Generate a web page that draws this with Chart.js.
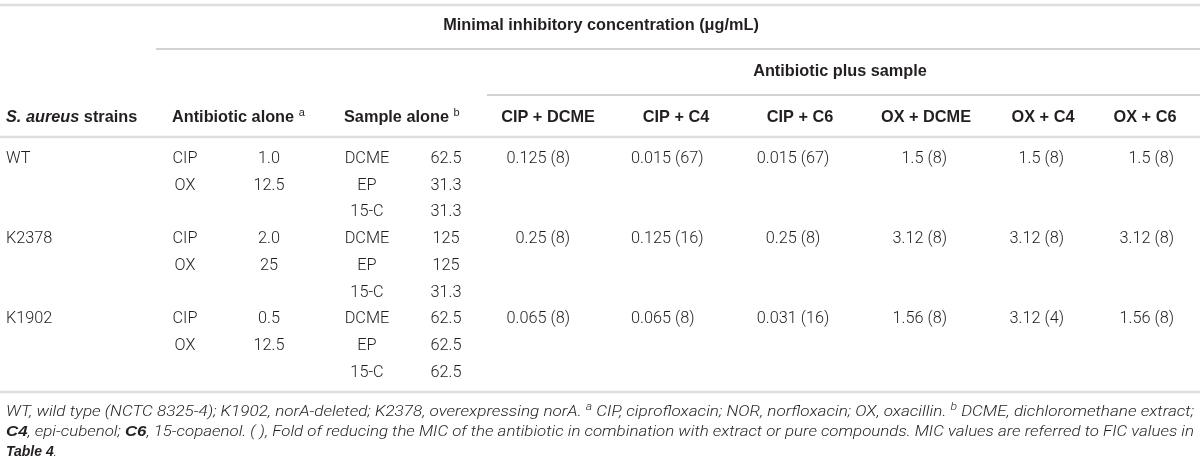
<!DOCTYPE html>
<html><head><meta charset="utf-8">
<script src="https://cdn.jsdelivr.net/npm/chart.js@4.4.1/dist/chart.umd.min.js"></script>
<style>html,body{margin:0;padding:0;background:#fff;overflow:hidden}#wrap{width:1200px;height:465px;position:relative}</style>
</head><body><div id="wrap"><canvas id="c"></canvas></div>
<script>
// ---------------- DATA ----------------
const titleText = 'Minimal inhibitory concentration (\u03bcg/mL)';
const groupText = 'Antibiotic plus sample';
const strainHeader = [['S. aureus', 'bi'], [' strains', 'b']];
const antibioticHeader = [['Antibiotic alone ', 'b'], ['a', 'sup']];
const sampleHeader = [['Sample alone ', 'b'], ['b', 'sup']];
const strains = ['WT', 'K2378', 'K1902'];
const antibiotics = ['CIP', 'OX'];
const antibioticAlone = [['1.0', '12.5'], ['2.0', '25'], ['0.5', '12.5']];
const samples = ['DCME', 'EP', '15-C'];
const sampleAlone = [['62.5', '31.3', '31.3'], ['125', '125', '31.3'], ['62.5', '62.5', '62.5']];
const combos = ['CIP + DCME', 'CIP + C4', 'CIP + C6', 'OX + DCME', 'OX + C4', 'OX + C6'];
const comboMIC = [[0.125, 0.015, 0.015, 1.5, 1.5, 1.5], [0.25, 0.125, 0.25, 3.12, 3.12, 3.12], [0.065, 0.065, 0.031, 1.56, 3.12, 1.56]];
const comboFold = [[8, 67, 67, 8, 8, 8], [8, 16, 8, 8, 8, 8], [8, 8, 16, 8, 4, 8]];
const footLines = [
  [['WT, wild type (NCTC 8325-4); K1902, norA-deleted; K2378, overexpressing norA. ', 'i'], ['a', 'supi'], [' CIP, ciprofloxacin; NOR, norfloxacin; OX, oxacillin. ', 'i'], ['b', 'supi'], [' DCME, dichloromethane extract;', 'i']],
  [['C4', 'bi'], [', epi-cubenol; ', 'i'], ['C6', 'bi'], [', 15-copaenol. ( ), Fold of reducing the MIC of the antibiotic in combination with extract or pure compounds. MIC values are referred to FIC values in', 'i']],
  [['Table 4', 'bi'], ['.', 'i']]
];

// ---------------- LAYOUT / STYLE ----------------
const FAM = '"Liberation Sans", Arial, sans-serif';
const BODYFAM = 'Roboto, "Liberation Sans", Arial, sans-serif';
const FONTS = {
  b: '700 16.3px ' + FAM, bi: 'italic 700 16.3px ' + FAM, r: '300 16.3px ' + BODYFAM,
  sup: '400 11px ' + FAM
};
const footFonts = { i: 'italic 300 14px ' + BODYFAM, bi: 'italic 700 14px ' + FAM, supi: 'italic 300 10px ' + BODYFAM };
const rowTitle = 26, rowGroup = 72, rowHead = 118;
const bodyTop = 159, bodyStep = 26.7;
const footRows = [412, 432, 452];
const colStrain = 6, colAbName = 185, colAbVal = 269, colSmName = 367, colSmVal = 446;
const headAb = 172, headSm = 344;
const comboHeadCenters = [548, 676, 800, 926, 1043, 1145];
const comboAnchor = [570, 631, 793, 947, 1064, 1174];
const comboAlign = ['right', 'left', 'center', 'right', 'right', 'right'];
const titleCenter = 601, groupCenter = 840;
const rules = [
  { y: 5, x0: 0, x1: 1200, c: '#dedede', w: 2.5 },
  { y: 49, x0: 156, x1: 1200, c: '#a8a8a8', w: 1.2 },
  { y: 95, x0: 487, x1: 1200, c: '#a8a8a8', w: 1.2 },
  { y: 137, x0: 0, x1: 1200, c: '#dedede', w: 2.5 },
  { y: 392, x0: 0, x1: 1200, c: '#dedede', w: 2.5 }
];
const TEXT_COLOR = '#231f20';
const BODY_COLOR = '#1e1e1e';

// ---------------- BUILD CELLS ----------------
const cells = [];
function addCell(x, y, runs, align, opts) { cells.push(Object.assign({ x, y, runs, align }, opts || {})); }
addCell(titleCenter, rowTitle, [[titleText, 'b']], 'center');
addCell(groupCenter, rowGroup, [[groupText, 'b']], 'center');
addCell(colStrain, rowHead, strainHeader, 'left');
addCell(headAb, rowHead, antibioticHeader, 'left');
addCell(headSm, rowHead, sampleHeader, 'left');
combos.forEach((c, k) => addCell(comboHeadCenters[k], rowHead, [[c, 'b']], 'center'));
strains.forEach((s, si) => {
  const y0 = bodyTop + si * 3 * bodyStep;
  addCell(colStrain, y0, [[s, 'r']], 'left', { body: true });
  antibiotics.forEach((a, ai) => {
    addCell(colAbName, y0 + ai * bodyStep, [[a, 'r']], 'center', { body: true });
    addCell(colAbVal, y0 + ai * bodyStep, [[antibioticAlone[si][ai], 'r']], 'center', { body: true });
  });
  samples.forEach((m, mi) => {
    addCell(colSmName, y0 + mi * bodyStep, [[m, 'r']], 'center', { body: true });
    addCell(colSmVal, y0 + mi * bodyStep, [[sampleAlone[si][mi], 'r']], 'center', { body: true });
  });
  combos.forEach((c, k) => {
    addCell(comboAnchor[k], y0, [[String(comboMIC[si][k]) + ' (' + comboFold[si][k] + ')', 'r']], comboAlign[k], { body: true });
  });
});
footLines.forEach((ln, li) => addCell(6, footRows[li], ln, 'left', { foot: true, fit: li < 2 ? 1194 : null }));

// ---------------- CHART ----------------
function runFont(st, foot) { return foot ? (footFonts[st] || footFonts.i) : FONTS[st]; }
const tablePlugin = {
  id: 'tableText',
  afterDatasetsDraw(chart) {
    const ctx = chart.ctx;
    const xs = chart.scales.x;
    chart.data.datasets.forEach((ds, di) => {
      if (!ds.cells) return;
      const meta = chart.getDatasetMeta(di);
      meta.data.forEach((el, i) => {
        const cell = ds.cells[i];
        ctx.save();
        ctx.textBaseline = 'middle';
        let total = 0;
        const widths = cell.runs.map(([t, st]) => { ctx.font = runFont(st, cell.foot); const w = ctx.measureText(t).width; total += w; return w; });
        let sx = 1;
        if (cell.fit) { const target = xs.getPixelForValue(cell.fit) - el.x; sx = target / total; }
        let x0 = el.x;
        if (cell.align === 'center') x0 = el.x - total * sx / 2;
        else if (cell.align === 'right') x0 = el.x - total * sx;
        ctx.translate(x0, el.y);
        ctx.scale(sx, 1);
        let cx = 0;
        cell.runs.forEach(([t, st], k) => {
          ctx.font = runFont(st, cell.foot);
          ctx.fillStyle = cell.body ? BODY_COLOR : TEXT_COLOR;
          const dy = (st === 'sup' || st === 'supi') ? -5 : 0;
          ctx.fillText(t, cx, dy);
          cx += widths[k];
        });
        ctx.restore();
      });
    });
  }
};

const datasets = rules.map(r => ({
  type: 'line', data: [{ x: r.x0, y: r.y }, { x: r.x1, y: r.y }],
  borderColor: r.c, borderWidth: r.w, pointRadius: 0, showLine: true, fill: false
}));
datasets.push({ type: 'scatter', data: cells.map(c => ({ x: c.x, y: c.y })), cells, pointRadius: 0, pointHoverRadius: 0 });

document.fonts && document.fonts.load(FONTS.r);
new Chart(document.getElementById('c'), {
  type: 'scatter',
  data: { datasets },
  options: {
    responsive: true, maintainAspectRatio: false, animation: false,
    layout: { padding: 0 },
    plugins: { legend: { display: false }, tooltip: { enabled: false }, title: { display: false } },
    events: [],
    scales: {
      x: { type: 'linear', min: 0, max: 1200, display: false },
      y: { type: 'linear', min: 0, max: 465, reverse: true, display: false }
    }
  },
  plugins: [tablePlugin]
});
</script></body></html>
